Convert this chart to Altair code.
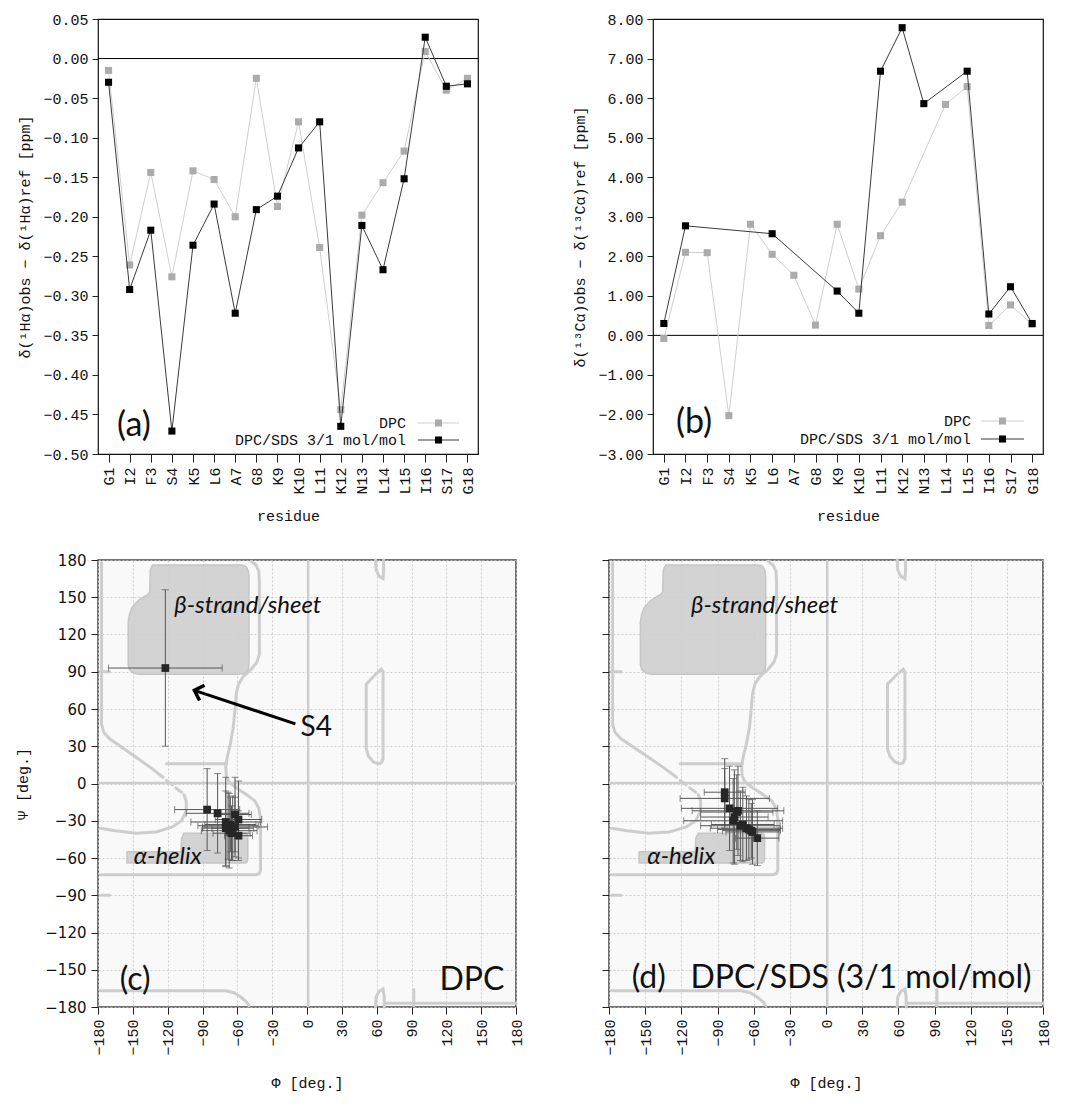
import altair as alt
import pandas as pd

MONO = "Liberation Mono"
LAB = "Lato"

# ---------------- data: chemical shift deviations ----------------
residues = ["G1", "I2", "F3", "S4", "K5", "L6", "A7", "G8", "K9", "K10",
            "L11", "K12", "N13", "L14", "L15", "I16", "S17", "G18"]

ha_dpc = [-0.015, -0.261, -0.144, -0.276, -0.142, -0.153, -0.200, -0.025, -0.187, -0.080,
          -0.239, -0.444, -0.198, -0.157, -0.117, 0.009, -0.040, -0.025]
ha_sds = [-0.030, -0.292, -0.217, -0.471, -0.236, -0.184, -0.322, -0.191, -0.174, -0.113,
          -0.080, -0.465, -0.211, -0.267, -0.152, 0.027, -0.035, -0.032]

ca_dpc = [-0.08, 2.10, 2.09, -2.03, 2.81, 2.05, 1.52, 0.26, 2.81, 1.17,
          2.52, 3.37, None, 5.84, 6.29, 0.25, 0.77, 0.28]
ca_sds = [0.30, 2.77, None, None, None, 2.57, None, None, 1.12, 0.56,
          6.68, 7.78, 5.86, None, 6.68, 0.54, 1.23, 0.30]

ha_ticks = [-0.50, -0.45, -0.40, -0.35, -0.30, -0.25, -0.20, -0.15, -0.10, -0.05, 0.00, 0.05]
ca_ticks = [-3, -2, -1, 0, 1, 2, 3, 4, 5, 6, 7, 8]
ang_ticks = [-180, -150, -120, -90, -60, -30, 0, 30, 60, 90, 120, 150, 180]

series_names = ["DPC", "DPC/SDS 3/1 mol/mol"]

# ---------------- data: backbone torsion angles ----------------
c_res = ["I2", "F3", "S4", "K5", "L6", "A7", "K9", "K10", "L11", "K12", "N13", "L14", "L15", "I16"]
c_phi = [-86, -77, -122, -62, -59, -70, -68, -66, -64, -67, -62, -65, -59, -70]
c_psi = [-21, -24, 93, -25, -29, -31, -34, -33, -36, -38, -35, -40, -42, -36]
c_dphi = [28, 27, 49, 14, 20, 30, 26, 22, 18, 24, 28, 16, 12, 20]
c_dpsi = [33, 32, 63, 30, 31, 36, 27, 22, 26, 30, 24, 22, 20, 30]

d_res = ["I2", "F3", "S4", "K5", "L6", "A7", "K9", "K10", "L11", "K12", "N13", "L14", "L15", "I16"]
d_phi = [-84, -84, -80, -73, -74, -77, -76, -71, -69, -66, -64, -62, -61, -57]
d_psi = [-7, -12, -20, -22, -23, -30, -27, -34, -33, -36, -37, -38, -39, -44]
d_dphi = [17, 37, 40, 38, 30, 41, 28, 33, 26, 30, 26, 24, 22, 18]
d_dpsi = [27, 24, 34, 36, 30, 34, 38, 28, 30, 26, 24, 22, 26, 22]

# Ramachandran background regions (phi, lower psi, upper psi)
beta_phi = [-154, -153, -151, -148, -145, -141, -137.5, -135.5, -135, -133, -58, -54, -52, -50.5, -50]
beta_lo = [96, 92, 90, 88.5, 88, 88, 88, 88, 88, 88, 88, 88.5, 90, 92, 96]
beta_hi = [130, 136, 141, 145, 147.5, 150, 152, 154, 172, 176, 176, 175.5, 174, 171, 167]

alpha_phi = [-155, -108.5, -108, -106, -53, -51.5, -51]
alpha_lo = [-64, -64, -64, -64, -64, -63, -61]
alpha_hi = [-55, -55, -44, -40, -40, -41, -43]

contours = [
    [(-48, 179), (-44, 176), (-41.5, 171), (-41, 162), (-41, 104), (-43, 98), (-48, 92), (-55, 86),
     (-59, 80), (-61, 72), (-62, 60), (-63.5, 45), (-66, 32), (-68.5, 22), (-70, 14), (-69.5, 6),
     (-67, 1), (-60, -4), (-52, -9), (-45, -14), (-41.5, -20), (-40, -28), (-40, -70), (-41, -72.5),
     (-44, -73.5), (-178, -73.5)],
    [(-69.5, 16), (-121, 16)],
    [(-177, 178), (-177, 48), (-175, 41), (-170, 36), (-150, 23), (-135, 13), (-124, 5)],
    [(-121, 2.5), (-116, -1)],
    [(-113, -3.5), (-108, -7)],
    [(-106, -9), (-104, -14), (-104, -22), (-108, -30), (-116, -35), (-130, -39), (-147, -40),
     (-165, -38), (-178, -36)],
    [(-178, 90), (-170, 90)],
    [(-178, -90), (-170, -90)],
    [(51, 80), (58, 87), (64, 92), (65.5, 90), (65.5, 20), (64, 16.5), (61, 16), (57, 17.5),
     (53, 22), (51, 28), (51, 80)],
    [(59, 180), (59.5, 172), (62, 167), (65.5, 165), (66, 172), (66, 180)],
    [(-178, -167), (-70, -167), (-63, -168.5), (-57, -172), (-52, -176), (-50, -179)],
    [(59, -180), (59.5, -172), (62, -167.5), (65.5, -165.5), (66.5, -172), (66.5, -180)],
    [(92, -166), (92, -179)],
    [(67, -177), (180, -177)],
]

# ---------------- helpers ----------------
def series_frame(values, name):
    rows = [{"idx": i, "residue": r, "value": v, "series": name}
            for i, (r, v) in enumerate(zip(residues, values)) if v is not None]
    return pd.DataFrame(rows)


def shift_panel(dpc, sds, ticks, fmt, ytitle, w, h, tag, tag_x, tag_y, leg_x, leg_y):
    xax = alt.Axis(title="residue", labelAngle=270, tickSize=8, labelPadding=5,
                   titlePadding=14, domain=False, grid=False)
    yax = alt.Axis(values=ticks, format=fmt, title=ytitle, tickSize=6, labelPadding=4,
                   titlePadding=10, domain=False, grid=False)

    def X():
        return alt.X("residue:N", sort=residues,
                     scale=alt.Scale(type="point", domain=residues, padding=0.5), axis=xax)

    def Y():
        return alt.Y("value:Q", scale=alt.Scale(domain=[ticks[0], ticks[-1]], nice=False, zero=False),
                     axis=yax)

    d = series_frame(dpc, series_names[0])
    s = series_frame(sds, series_names[1])
    zero = alt.Chart(pd.DataFrame({"value": [0.0]})).mark_rule(color="black", strokeWidth=1).encode(y=Y())
    gl = alt.Chart(d).mark_line(color="#cfcfcf", strokeWidth=1).encode(x=X(), y=Y(), order="idx:Q")
    gp = alt.Chart(d).mark_square(color="#ababab", size=50, opacity=1).encode(x=X(), y=Y())
    bl = alt.Chart(s).mark_line(color="#3a3a3a", strokeWidth=1).encode(x=X(), y=Y(), order="idx:Q")
    bp = alt.Chart(s).mark_square(color="black", size=50, opacity=1).encode(x=X(), y=Y())

    layers = [zero, gl, gp, bl, bp]
    cols = [("#cfcfcf", "#ababab"), ("#3a3a3a", "black")]
    for k, name in enumerate(series_names):
        yy = leg_y[k]
        layers.append(alt.Chart(pd.DataFrame({"t": [name]})).mark_text(
            align="right", baseline="middle", font=MONO, fontSize=15, color="#111").encode(
            text="t:N", x=alt.value(leg_x[0]), y=alt.value(yy)))
        layers.append(alt.Chart(pd.DataFrame({"t": [name]})).mark_rule(
            color=cols[k][0], strokeWidth=1.2).encode(
            x=alt.value(leg_x[1]), x2=alt.value(leg_x[2]), y=alt.value(yy)))
        layers.append(alt.Chart(pd.DataFrame({"t": [name]})).mark_square(
            color=cols[k][1], size=50, opacity=1).encode(
            x=alt.value((leg_x[1] + leg_x[2]) / 2), y=alt.value(yy)))
    layers.append(alt.Chart(pd.DataFrame({"t": [tag]})).mark_text(
        font=LAB, fontSize=34, baseline="middle", align="center", color="#111").encode(
        text="t:N", x=alt.value(tag_x), y=alt.value(tag_y)))
    return alt.layer(*layers).properties(
        width=w, height=h, view=alt.ViewBackground(stroke="#111", strokeWidth=1.2, fill="white"))


def rama_panel(res, phi, psi, dphi, dpsi, w, h, show_y, normal_texts, italic_texts, arrow=None):
    xax = alt.Axis(values=ang_ticks, title="Φ  [deg.]", labelAngle=270, tickSize=7, labelPadding=5,
                   titlePadding=20, domain=False, grid=True, gridDash=[2, 2], gridColor="#c4c4c4",
                   gridWidth=0.8)
    if show_y:
        yax = alt.Axis(values=ang_ticks, title="Ψ  [deg.]", tickSize=7, labelPadding=5,
                       labelFont="DejaVu Sans", labelFontSize=15, titlePadding=14, domain=False,
                       grid=True, gridDash=[2, 2], gridColor="#c4c4c4", gridWidth=0.8)
    else:
        yax = alt.Axis(values=ang_ticks, title="", labels=False, tickSize=7, domain=False,
                       grid=True, gridDash=[2, 2], gridColor="#c4c4c4", gridWidth=0.8)

    sc = alt.Scale(domain=[-180, 180], nice=False, zero=False)

    def X(f):
        return alt.X(f"{f}:Q", scale=sc, axis=xax)

    def Y(f):
        return alt.Y(f"{f}:Q", scale=sc, axis=yax)

    beta = pd.DataFrame({"phi": beta_phi, "psi": beta_lo, "psi2": beta_hi})
    alpha = pd.DataFrame({"phi": alpha_phi, "psi": alpha_lo, "psi2": alpha_hi})
    rows = []
    for si, seg in enumerate(contours):
        for k, (p, q) in enumerate(seg):
            rows.append({"seg": si, "idx": k, "phi": p, "psi": q})
    cont = pd.DataFrame(rows)

    layers = [
        alt.Chart(beta).mark_area(color="#d0d0d0", stroke="#c2c2c2", strokeWidth=1.5, opacity=0.92).encode(
            x=X("phi"), y=Y("psi"), y2="psi2:Q"),
        alt.Chart(alpha).mark_area(color="#d0d0d0", stroke="#c2c2c2", strokeWidth=1.5, opacity=0.92).encode(
            x=X("phi"), y=Y("psi"), y2="psi2:Q"),
        alt.Chart(pd.DataFrame({"phi": [1.0]})).mark_rule(color="#cdcdcd", strokeWidth=2.5).encode(x=X("phi")),
        alt.Chart(pd.DataFrame({"psi": [0.5]})).mark_rule(color="#cdcdcd", strokeWidth=2.5).encode(y=Y("psi")),
        alt.Chart(cont).mark_line(color="#cdcdcd", strokeWidth=3, strokeCap="round").encode(
            x=X("phi"), y=Y("psi"), detail="seg:N", order="idx:Q"),
    ]

    pts = pd.DataFrame({"res": res, "phi": phi, "psi": psi, "dphi": dphi, "dpsi": dpsi})
    pts["phi_lo"] = pts["phi"] - pts["dphi"]
    pts["phi_hi"] = pts["phi"] + pts["dphi"]
    pts["psi_lo"] = pts["psi"] - pts["dpsi"]
    pts["psi_hi"] = pts["psi"] + pts["dpsi"]
    ec = "#555555"
    base = alt.Chart(pts)
    layers += [
        base.mark_rule(color=ec, strokeWidth=1).encode(x=X("phi"), y=Y("psi_lo"), y2="psi_hi:Q"),
        base.mark_rule(color=ec, strokeWidth=1).encode(y=Y("psi"), x=X("phi_lo"), x2="phi_hi:Q"),
        base.mark_tick(color=ec, orient="horizontal", size=7, thickness=1).encode(x=X("phi"), y=Y("psi_lo")),
        base.mark_tick(color=ec, orient="horizontal", size=7, thickness=1).encode(x=X("phi"), y=Y("psi_hi")),
        base.mark_tick(color=ec, orient="vertical", size=7, thickness=1).encode(x=X("phi_lo"), y=Y("psi")),
        base.mark_tick(color=ec, orient="vertical", size=7, thickness=1).encode(x=X("phi_hi"), y=Y("psi")),
        base.mark_square(color="#262626", size=60, opacity=1).encode(x=X("phi"), y=Y("psi")),
    ]

    if arrow is not None:
        adf = pd.DataFrame({"phi": [arrow[0][0], arrow[1][0]], "psi": [arrow[0][1], arrow[1][1]], "o": [0, 1]})
        layers.append(alt.Chart(adf).mark_line(color="black", strokeWidth=3).encode(
            x=X("phi"), y=Y("psi"), order="o:Q"))
        hdf = pd.DataFrame({"phi": [arrow[1][0]], "psi": [arrow[1][1]]})
        layers.append(alt.Chart(hdf).mark_point(
            shape="M -1 1 L 0 0 L 1 1", filled=False, color="black", strokeWidth=3.5,
            size=260, angle=288, opacity=1).encode(x=X("phi"), y=Y("psi")))

    ndf = pd.DataFrame(normal_texts, columns=["phi", "psi", "txt", "fs"])
    layers.append(alt.Chart(ndf).mark_text(font=LAB, color="#111", baseline="middle", align="center").encode(
        x=X("phi"), y=Y("psi"), text="txt:N", size=alt.Size("fs:Q", scale=None, legend=None)))
    idf = pd.DataFrame(italic_texts, columns=["phi", "psi", "txt", "fs"])
    layers.append(alt.Chart(idf).mark_text(font=LAB, fontStyle="italic", color="#111", baseline="middle",
                                           align="center").encode(
        x=X("phi"), y=Y("psi"), text="txt:N", size=alt.Size("fs:Q", scale=None, legend=None)))

    return alt.layer(*layers).properties(
        width=w, height=h, view=alt.ViewBackground(stroke="#444", strokeWidth=1.5, fill="#f9f9fa"))


panel_a = shift_panel(ha_dpc, ha_sds, ha_ticks, ".2f",
                      "δ(¹Hα)obs − δ(¹Hα)ref  [ppm]", 380, 435,
                      "(a)", 36, 407, (308, 320, 361), (404, 421))
panel_b = shift_panel(ca_dpc, ca_sds, ca_ticks, ".2f",
                      "δ(¹³Cα)obs − δ(¹³Cα)ref  [ppm]", 390, 435,
                      "(b)", 41, 404, (318, 328, 371), (402, 420))

helix_texts = [(-51, 143, "β-strand/sheet", 24), (-120, -59, "α-helix", 24)]
panel_c = rama_panel(c_res, c_phi, c_psi, c_dphi, c_dpsi, 418, 447, True,
                     [(8, 45, "S4", 28), (-148, -158, "(c)", 32), (142, -158, "DPC", 32)],
                     helix_texts, arrow=((-10, 48), (-97, 75)))
panel_d = rama_panel(d_res, d_phi, d_psi, d_dphi, d_dpsi, 434, 447, False,
                     [(-147, -157, "(d)", 32), (29, -157, "DPC/SDS (3/1 mol/mol)", 32)],
                     helix_texts)

top = alt.hconcat(panel_a, panel_b, spacing=92)
bottom = alt.hconcat(panel_c, panel_d, spacing=75)

chart = alt.vconcat(top, bottom, spacing=28).properties(
    padding={"left": 7, "top": 3, "right": 5, "bottom": 8}
).configure_axis(
    labelFont=MONO, labelFontSize=15, labelColor="#111",
    titleFont=MONO, titleFontSize=15, titleFontWeight="normal", titleColor="#111",
    tickColor="#222"
).configure_view(stroke="#111")

chart.save("out.html", embed_options={"renderer": "svg", "actions": False})
